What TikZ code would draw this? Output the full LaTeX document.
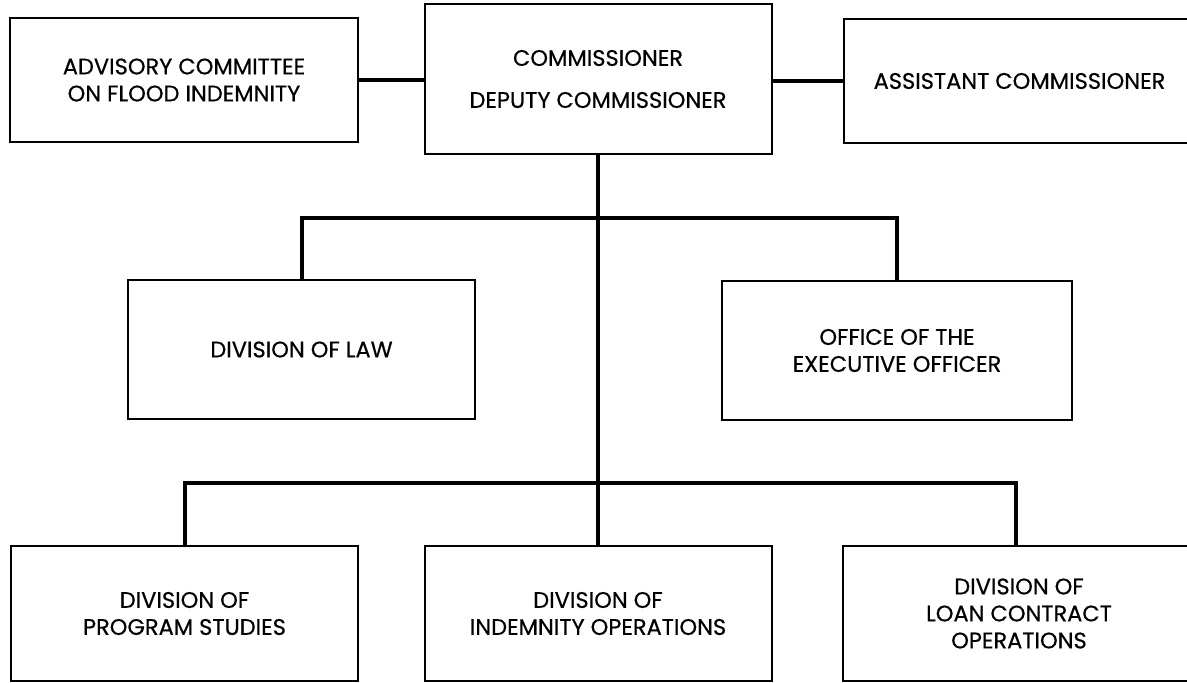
\documentclass[tikz,border=0pt]{standalone}
\usepackage{fontspec}
\newfontfamily\labelfont{Poppins}[FakeBold=0.5]
\begin{document}
\begin{tikzpicture}[x=1pt,y=-1pt,
  unit/.style={draw=black, line width=2pt, fill=white, align=center,
    font=\labelfont\fontsize{22.5}{27}\selectfont, inner sep=0pt},
  link/.style={draw=black, line width=4pt, line cap=rect}]
\useasboundingbox (0,0) rectangle (1187,683);
\clip (0,0) rectangle (1187,683);

% top row
\node[unit, minimum width=348pt, minimum height=124pt] (adv) at (184,80)
  {ADVISORY COMMITTEE\\ON FLOOD INDEMNITY};
\node[unit, minimum width=347pt, minimum height=150pt] (com) at (598,79)
  {COMMISSIONER\\[15pt]DEPUTY COMMISSIONER};
\node[unit, minimum width=351pt, minimum height=124pt] (ast) at (1019.5,81)
  {ASSISTANT COMMISSIONER};

% middle row
\node[unit, minimum width=347pt, minimum height=139pt] (law) at (301.5,349.5)
  {DIVISION OF LAW};
\node[unit, minimum width=350pt, minimum height=139pt] (off) at (897,350.5)
  {OFFICE OF THE\\EXECUTIVE OFFICER};

% bottom row
\node[unit, minimum width=347pt, minimum height=135pt] (prog) at (184.5,613.5)
  {DIVISION OF\\PROGRAM STUDIES};
\node[unit, minimum width=347pt, minimum height=135pt] (ind) at (598,613.5)
  {DIVISION OF\\INDEMNITY OPERATIONS};
\node[unit, minimum width=352pt, minimum height=135pt] (loan) at (1019,613.5)
  {DIVISION OF\\LOAN CONTRACT\\OPERATIONS};

% bus lines
\coordinate (busA) at (598,218);
\coordinate (busB) at (598,483);

\draw[link] (adv.east) -- (adv.east -| com.west);
\draw[link] (com.east |- ast.west) -- (ast.west);
\draw[link, line cap=butt] (com.south) -- (ind.north);
\draw[link, line join=miter] (law.north) -- (law.north |- busA) -- (off.north |- busA) -- (off.north);
\draw[link, line join=miter] (prog.north) -- (prog.north |- busB) -- (busB -| 1016,0) -- (1016,0 |- loan.north);
\end{tikzpicture}
\end{document}
